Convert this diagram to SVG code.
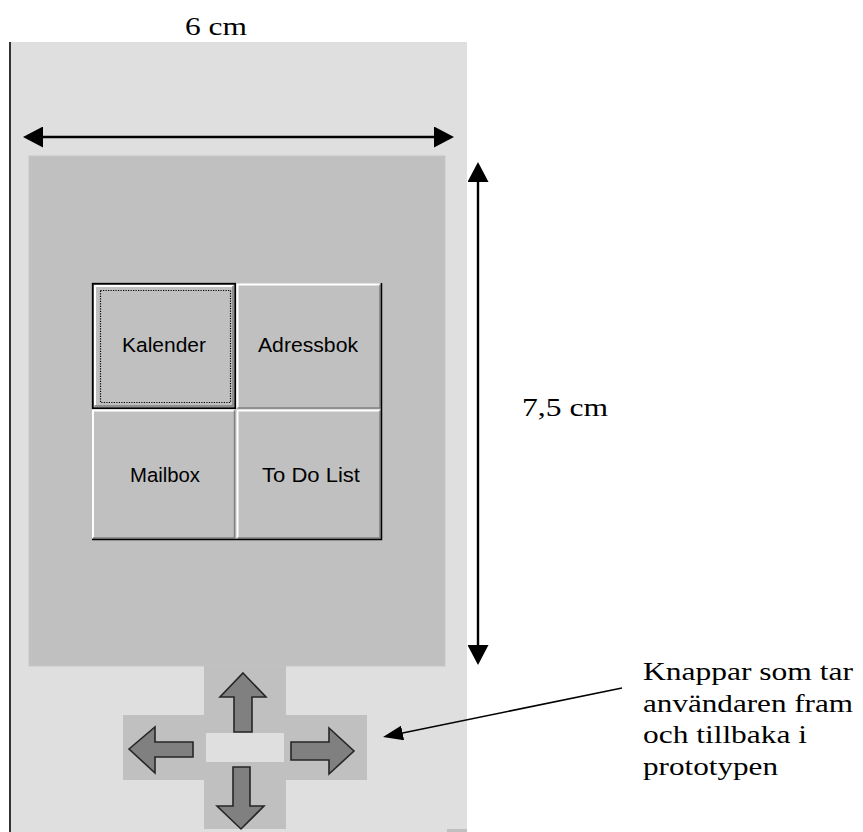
<svg xmlns="http://www.w3.org/2000/svg" width="863" height="832" viewBox="0 0 863 832">
  <defs>
    <style>
      .serif { font-family: "Liberation Serif", "Times New Roman", serif; font-size: 25px; fill: #000; }
      .btn-text { font-family: "Liberation Sans", Arial, sans-serif; font-size: 20.5px; fill: #000; }
      .face { fill: #c0c0c0; }
      .hl { fill: none; stroke: #ffffff; stroke-width: 2; }
      .sh { fill: none; stroke: #808080; stroke-width: 1.5; }
      .pad { fill: #c0c0c0; }
      .nav { fill: #808080; stroke: #262626; stroke-width: 1.6; stroke-linejoin: miter; }
      .dim { fill: none; stroke: #000; stroke-width: 2.4; marker-start: url(#dimHead); marker-end: url(#dimHead); }
      .pointer { fill: none; stroke: #000; stroke-width: 1.5; marker-end: url(#ptrHead); }
    </style>
    <marker id="dimHead" markerUnits="userSpaceOnUse" markerWidth="20" markerHeight="21" refX="5" refY="10.5" orient="auto-start-reverse">
      <path d="M0,0 L20,10.5 L0,21 z" fill="#000"/>
    </marker>
    <marker id="ptrHead" markerUnits="userSpaceOnUse" markerWidth="20" markerHeight="15" refX="5" refY="7.5" orient="auto">
      <path d="M0,0 L20,7.5 L0,15 z" fill="#000"/>
    </marker>
  </defs>

  <rect width="863" height="832" fill="#ffffff"/>

  <!-- device body -->
  <g id="device">
    <rect x="11" y="42" width="456" height="790" fill="#dfdfdf"/>
    <line x1="10" y1="42" x2="10" y2="832" stroke="#333" stroke-width="2"/>
    <rect x="447" y="829" width="20" height="3" fill="#c0c0c0"/>
  </g>

  <!-- screen area -->
  <g id="screen">
    <rect x="29" y="156" width="416" height="510" fill="#c0c0c0" stroke="#c6c6c6" stroke-width="1"/>
  </g>

  <!-- menu buttons -->
  <g id="btn-kalender">
    <rect class="face" x="92" y="283" width="144" height="126"/>
    <path class="hl" d="M95,405 V286 H233"/>
    <path class="sh" d="M95,406 H233 V286"/>
    <rect x="92.75" y="283.75" width="142.5" height="124.5" fill="none" stroke="#000" stroke-width="1.8"/>
    <rect x="100.5" y="290.5" width="130" height="112" fill="none" stroke="#000" stroke-width="1.2" stroke-dasharray="1.2 1.3"/>
    <text class="btn-text" x="122" y="352" textLength="84" lengthAdjust="spacingAndGlyphs">Kalender</text>
  </g>

  <g id="btn-adressbok">
    <rect class="face" x="236" y="283" width="146" height="126"/>
    <path class="hl" d="M237.5,408 V284.5 H380"/>
    <path class="sh" d="M237.5,408 H380 V284.5"/>
    <text class="btn-text" x="258" y="352" textLength="100" lengthAdjust="spacingAndGlyphs">Adressbok</text>
  </g>

  <g id="btn-mailbox">
    <rect class="face" x="92" y="409" width="144" height="131"/>
    <path class="hl" d="M93,538 V410.5 H234.5"/>
    <path class="sh" d="M93,538 H234.5 V410.5"/>
    <text class="btn-text" x="130" y="482" textLength="70" lengthAdjust="spacingAndGlyphs">Mailbox</text>
  </g>

  <g id="btn-todo">
    <rect class="face" x="236" y="409" width="146" height="131"/>
    <path class="hl" d="M237.5,538 V410.5 H380"/>
    <path class="sh" d="M237.5,538 H380 V410.5"/>
    <text class="btn-text" x="262" y="482" textLength="98" lengthAdjust="spacingAndGlyphs">To Do List</text>
  </g>

  <g id="button-grid-edge">
    <path d="M92,539.5 H381.5 V283" fill="none" stroke="#000" stroke-width="1.5"/>
  </g>

  <!-- navigation pad -->
  <g id="nav-pad">
    <rect class="pad" x="204" y="666" width="82" height="163"/>
    <rect class="pad" x="123" y="715" width="244" height="65"/>
    <rect x="206" y="733" width="78" height="29" fill="#dfdfdf"/>
  </g>
  <g id="nav-up">
    <polygon class="nav" points="243,673 266,697 252,697 252,732 234,732 234,697 220,697"/>
  </g>
  <g id="nav-down">
    <polygon class="nav" points="233,767 250,767 250,806 264,806 241,829 217,806 233,806"/>
  </g>
  <g id="nav-left">
    <polygon class="nav" points="129,749 155,727 155,742 193,742 193,757 155,757 155,773"/>
  </g>
  <g id="nav-right">
    <polygon class="nav" points="291,742 329,742 329,728 354,751 329,774 329,760 291,760"/>
  </g>

  <!-- labels -->
  <g id="label-width">
    <text class="serif" x="185" y="35" textLength="62" lengthAdjust="spacingAndGlyphs">6 cm</text>
  </g>
  <g id="label-height">
    <text class="serif" x="522" y="416" textLength="86" lengthAdjust="spacingAndGlyphs">7,5 cm</text>
  </g>
  <g id="label-nav">
    <text class="serif" x="643" y="680" textLength="210" lengthAdjust="spacingAndGlyphs">Knappar som tar</text>
    <text class="serif" x="643" y="712" textLength="210" lengthAdjust="spacingAndGlyphs">användaren fram</text>
    <text class="serif" x="643" y="743" textLength="164" lengthAdjust="spacingAndGlyphs">och tillbaka i</text>
    <text class="serif" x="643" y="775" textLength="135" lengthAdjust="spacingAndGlyphs">prototypen</text>
  </g>

  <!-- connectors: dimension lines and callout -->
  <g id="connectors">
    <path class="dim" d="M38,137 H439"/>
    <path class="dim" d="M478,177 V650"/>
    <path class="pointer" d="M622,688 L397.7,734"/>
  </g>
</svg>
